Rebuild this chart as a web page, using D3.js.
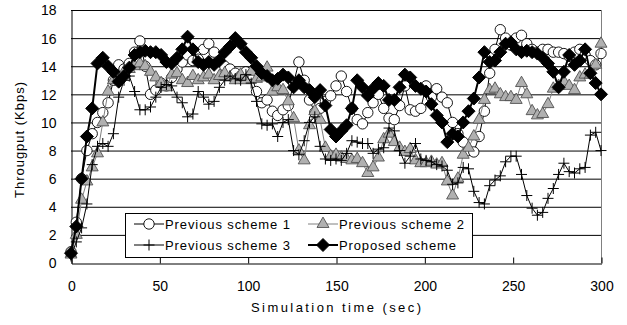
<!DOCTYPE html>
<html><head><meta charset="utf-8">
<script src="https://cdn.jsdelivr.net/npm/d3@7"></script>
<style>body{margin:0;background:#fff}svg{display:block}text{font-family:"Liberation Sans",Arial,sans-serif;fill:#000}</style>
</head><body><svg id="c" width="627" height="325"></svg>
<script>
const times = [0,3,6,9,12,15,18,21,24,27,30,33,36,39,42,45,48,51,54,57,60,63,66,69,72,75,78,81,84,87,90,93,96,99,102,105,108,111,114,117,120,123,126,129,132,135,138,141,144,147,150,153,156,159,162,165,168,171,174,177,180,183,186,189,192,195,198,201,204,207,210,213,216,219,222,225,228,231,234,237,240,243,246,249,252,255,258,261,264,267,270,273,276,279,282,285,288,291,294,297,300];
const prev1 = [0.8,2.9,6.0,8.0,9.2,10.0,10.7,11.4,13.0,14.1,13.8,14.2,15.0,15.8,14.0,12.0,12.3,12.8,12.6,13.2,13.8,14.3,14.8,14.4,14.5,15.2,15.6,15.0,14.4,14.0,13.8,13.5,13.3,13.6,13.4,12.2,11.4,11.6,10.8,10.5,10.9,11.2,12.8,14.3,13.0,11.6,10.7,11.0,11.5,11.9,12.6,13.3,12.2,11.0,10.2,9.9,10.7,11.4,12.0,11.0,10.3,10.2,11.2,12.6,10.9,10.8,11.0,12.6,11.8,12.4,11.8,11.4,10.0,9.2,8.6,8.0,7.9,9.0,10.8,13.5,15.2,16.6,16.0,15.5,16.0,16.2,15.6,15.2,15.0,15.2,15.2,15.0,15.0,14.9,14.7,15.0,15.2,14.8,14.4,14.1,14.9];
const prev2 = [0.6,2.0,4.5,5.8,6.8,7.8,10.0,12.2,13.0,13.2,13.6,13.8,14.0,14.2,14.0,13.6,13.2,12.8,12.5,13.4,13.5,13.0,12.8,13.3,13.0,13.2,13.4,13.0,13.3,13.5,13.2,13.0,13.4,13.0,13.6,13.1,13.2,13.9,12.2,12.5,12.3,11.5,10.3,8.0,7.3,9.8,10.8,10.2,8.2,7.6,7.7,7.5,7.4,7.3,7.4,7.1,6.4,6.8,7.5,8.8,9.2,8.6,8.2,7.9,8.1,7.3,7.1,7.1,7.2,7.0,7.1,5.8,4.8,6.0,7.7,8.2,9.0,10.2,11.6,12.3,12.4,12.0,11.8,11.8,11.6,12.8,12.0,10.8,10.5,10.6,11.3,12.4,12.6,12.9,12.6,12.3,13.2,13.4,13.4,14.1,15.6];
const prev3 = [0.5,1.5,2.5,4.2,7.0,8.3,8.5,8.3,9.2,11.8,13.0,13.3,12.2,10.9,10.9,11.1,11.8,12.5,12.7,12.6,11.8,11.4,10.4,10.6,12.2,11.8,11.3,11.5,12.5,13.0,13.3,13.1,13.0,13.4,12.8,11.5,9.9,9.8,9.9,9.0,10.0,10.2,8.0,7.7,8.7,10.0,10.4,8.3,7.4,7.3,7.4,7.3,7.8,8.7,8.6,8.5,8.5,7.8,8.1,8.2,9.6,9.4,8.0,7.1,7.6,8.5,7.4,7.3,7.2,7.0,6.9,6.6,5.6,5.7,6.8,6.7,5.1,4.3,4.2,5.5,5.9,6.2,7.2,7.6,7.6,6.3,4.8,3.9,3.4,3.6,4.6,5.3,6.3,7.1,6.5,6.4,6.7,6.8,9.1,9.3,8.0];
const proposed = [0.7,2.6,6.0,9.0,11.0,14.2,14.6,14.0,13.6,12.9,13.3,13.9,14.8,15.0,15.1,15.0,15.0,14.8,14.3,14.2,14.6,15.2,16.1,15.2,14.3,14.1,14.3,14.1,14.4,15.0,15.4,16.0,15.6,15.0,14.6,14.0,13.5,13.3,13.0,13.1,13.4,13.2,12.5,13.0,12.5,12.3,11.8,12.3,11.2,9.5,9.0,9.4,9.8,11.0,13.0,12.5,11.9,12.4,12.8,12.6,11.6,11.6,12.5,13.4,13.2,12.6,12.4,12.2,11.3,10.5,10.0,8.6,9.2,9.0,10.0,10.8,11.7,13.2,15.0,14.3,14.4,15.0,15.6,15.7,15.2,15.0,15.1,15.0,14.9,14.6,14.2,13.6,12.5,13.6,14.8,14.1,14.4,15.2,13.5,12.8,12.0];
const seriesNames = ["Previous scheme 1","Previous scheme 2","Previous scheme 3","Proposed scheme"];
const xTicks = [0,50,100,150,200,250,300];
const yTicks = [0,2,4,6,8,10,12,14,16,18];

const svg = d3.select("#c");
const x = d3.scaleLinear().domain([0,300]).range([71,601]);
const y = d3.scaleLinear().domain([0,18]).range([263,10]);

// gridlines
svg.append("g").selectAll("line").data(yTicks.filter(d=>d>0)).join("line")
  .attr("x1",71).attr("x2",601).attr("y1",d=>y(d)+0.5).attr("y2",d=>y(d)+0.5)
  .attr("stroke","#000").attr("stroke-width",1);
svg.append("line").attr("x1",601.5).attr("x2",601.5).attr("y1",y(18)).attr("y2",y(0))
  .attr("stroke","#808080");

// axes
const yAxis = svg.append("g").attr("transform","translate(71.5,0.5)")
  .call(d3.axisLeft(y).tickValues(yTicks).tickSize(0).tickPadding(15));
yAxis.select(".domain").attr("stroke","#000");
yAxis.selectAll("text").style("font-size","14px").attr("font-family","Liberation Sans Narrow, Liberation Sans, Arial");

const xAxis = svg.append("g").attr("transform","translate(0.5,263.5)")
  .call(d3.axisBottom(x).tickValues(xTicks).tickSizeInner(-6).tickSizeOuter(0).tickPadding(18));
xAxis.select(".domain").attr("stroke","#000");
xAxis.selectAll(".tick line").attr("stroke","#000");
xAxis.selectAll("text").style("font-size","14px").attr("font-family","Liberation Sans Narrow, Liberation Sans, Arial");

svg.append("text").attr("x",336).attr("y",312).attr("text-anchor","middle")
  .style("font-size","13px").attr("textLength",170).attr("lengthAdjust","spacing")
  .text("Simulation time (sec)");
svg.append("text").attr("transform","translate(24,140) rotate(-90)").attr("text-anchor","middle")
  .style("font-size","13px").attr("textLength",116).attr("lengthAdjust","spacing")
  .text("Througput (Kbps)");

// markers
const tri = d3.symbol().type(d3.symbolTriangle).size(62)();
const dia = "M0,-6.5L6.5,0L0,6.5L-6.5,0Z";
const plus = "M-5.5,0H5.5M0,-5.5V5.5";
const styles = [
  {data:prev1, line:"#000", lw:1, draw:(g)=>g.append("circle").attr("r",5.2).attr("fill","#fff").attr("stroke","#000").attr("stroke-width",0.9)},
  {data:prev2, line:"#808080", lw:1, draw:(g)=>g.append("path").attr("d",tri).attr("fill","#b0b0b0").attr("stroke","#505050").attr("stroke-width",0.9)},
  {data:prev3, line:"#000", lw:1, draw:(g)=>g.append("path").attr("d",plus).attr("fill","none").attr("stroke","#000").attr("stroke-width",1)},
  {data:proposed, line:"#000", lw:2, draw:(g)=>g.append("path").attr("d",dia).attr("fill","#000").attr("stroke","#000")}
];
const line = d3.line().x((d,i)=>x(times[i])).y(d=>y(d));
styles.forEach(s=>{
  const g = svg.append("g");
  g.append("path").attr("d",line(s.data)).attr("fill","none").attr("stroke",s.line).attr("stroke-width",s.lw);
  s.data.forEach((v,i)=>{
    const m = g.append("g").attr("transform",`translate(${x(times[i])},${y(v)})`);
    s.draw(m);
  });
});

// legend
const lg = svg.append("g");
lg.append("rect").attr("x",125.5).attr("y",213.5).attr("width",347).attr("height",44).attr("fill","#fff").attr("stroke","#000");
const pos = [[134,224],[308,224],[134,245],[308,245]];
styles.forEach((s,i)=>{
  const [lx,ly] = pos[i];
  lg.append("line").attr("x1",lx).attr("x2",lx+30).attr("y1",ly).attr("y2",ly).attr("stroke",s.line).attr("stroke-width",s.lw);
  const m = lg.append("g").attr("transform",`translate(${lx+15},${ly})`);
  s.draw(m);
  lg.append("text").attr("x",lx+31).attr("y",ly+5).style("font-size","13px")
    .attr("textLength",i===3?117:125).attr("lengthAdjust","spacing").text(seriesNames[i]);
});
</script></body></html>
